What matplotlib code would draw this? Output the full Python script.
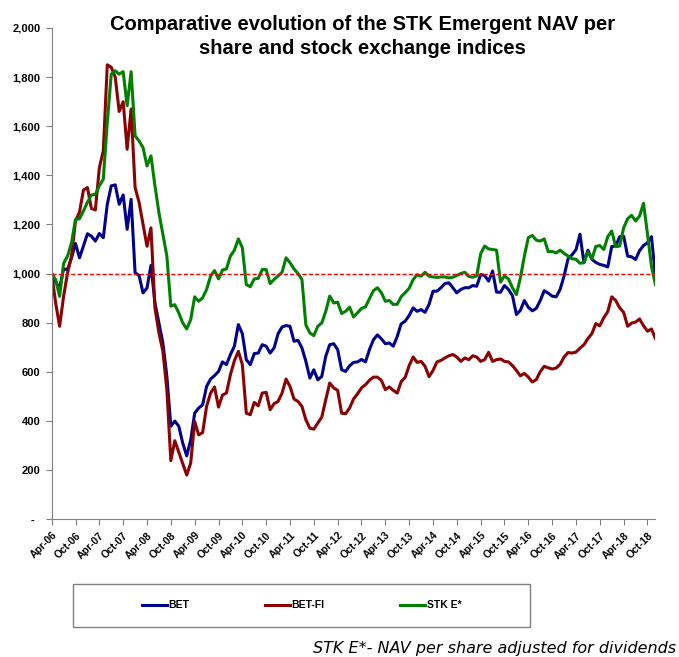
import numpy as np
import pandas as pd
import matplotlib
matplotlib.use("Agg")
import matplotlib.pyplot as plt
from matplotlib.patches import Rectangle

# monthly values, Apr-06 .. Dec-18 (base 1000)
months = pd.date_range("2006-04-01", periods=153, freq="MS")

bet = [1000, 965, 940, 1019, 1016, 1064, 1122, 1064, 1112, 1162, 1152, 1132, 1163, 1146, 1282,
       1357, 1361, 1282, 1320, 1180, 1302, 1003, 992, 921, 941, 1033, 880, 799, 717, 581,
       378, 399, 378, 309, 257, 322, 431, 452, 465,
       540, 570, 584, 601, 640, 629, 670, 704, 792, 755, 649, 629, 674, 676, 710,
       704, 676, 697, 755, 782, 788, 785, 724, 728, 697, 642, 574, 608, 567, 581,
       663, 710, 714, 690, 608, 601, 624, 638, 640,
       650, 640, 690, 730, 750, 734, 714, 717, 704, 744, 795, 806, 829, 860, 846,
       853, 842, 874, 928, 928, 942, 959, 962, 942, 921, 935, 942, 942, 951, 948,
       996, 992, 969, 1010, 924, 924, 951, 935,
       910, 833, 850, 890, 862, 848, 858, 890, 930, 920, 908, 905, 935, 990, 1060,
       1076, 1097, 1160, 1044, 1095, 1058, 1045, 1037, 1033, 1027, 1110, 1112, 1150, 1152, 1071,
       1068, 1057, 1093, 1114, 1125, 1150, 990]

bet_fi = [1000, 880, 785, 907, 1003, 1071, 1214, 1250, 1340, 1350, 1265, 1259, 1430, 1500, 1850,
          1840, 1800, 1660, 1700, 1506, 1670, 1350, 1290, 1200, 1111, 1186, 860, 758, 683, 526,
          238, 319, 272, 224, 179, 228, 397, 343, 352,
          459, 513, 538, 456, 505, 513, 588, 645, 683, 629, 431, 425, 475, 461, 513,
          516, 445, 470, 479, 513, 570, 540, 489, 479, 459, 404, 370, 366, 391, 415,
          486, 554, 534, 524, 431, 429, 452, 489, 510,
          534, 547, 565, 578, 578, 565, 527, 538, 524, 513, 560, 577, 625, 660, 638,
          642, 622, 580, 605, 640, 646, 656, 665, 670, 660, 642, 656, 649, 665, 660,
          642, 649, 679, 642, 649, 652, 642, 640,
          625, 605, 583, 593, 578, 558, 568, 600, 622, 616, 611, 615, 630, 660, 678,
          676, 680, 696, 710, 735, 755, 796, 787, 820, 845, 905, 890, 860, 842, 785,
          798, 802, 815, 787, 765, 774, 735]

stk_e = [1000, 975, 907, 1041, 1071, 1125, 1220, 1223, 1255, 1290, 1320, 1322, 1357, 1384, 1615,
         1812, 1826, 1812, 1822, 1683, 1822, 1561, 1540, 1513, 1438, 1479, 1357, 1248, 1159, 1071,
         867, 873, 839, 799, 774, 812, 905, 887, 901,
         935, 989, 1012, 978, 1014, 1019, 1071, 1095, 1141, 1105, 955, 946, 978, 980, 1016,
         1016, 959, 976, 990, 1005, 1064, 1044, 1019, 1000, 976, 790, 758, 747, 785, 799,
         846, 908, 880, 883, 837, 846, 863, 823, 840,
         858, 864, 897, 930, 942, 922, 887, 890, 874, 875, 906, 922, 940, 975, 995,
         989, 1005, 989, 986, 984, 986, 986, 982, 985, 992, 1000, 1005, 988, 985, 990,
         1080, 1112, 1100, 1098, 1095, 965, 990, 978,
         942, 914, 982, 1071, 1146, 1155, 1136, 1132, 1141, 1089, 1090, 1084, 1095, 1082, 1071,
         1060, 1058, 1042, 1044, 1087, 1060, 1110, 1114, 1098, 1150, 1173, 1109, 1112, 1186, 1223,
         1237, 1214, 1234, 1286, 1160, 1030, 955]

base_level = 1000
y_ticks = [0, 200, 400, 600, 800, 1000, 1200, 1400, 1600, 1800, 2000]

plt.rcParams["font.family"] = ["Liberation Sans", "DejaVu Sans"]

fig = plt.figure(figsize=(6.79, 6.57), dpi=100)
ax = fig.add_axes([0.0761, 0.21, 0.8892, 0.7474])

x = np.arange(len(months))
ax.plot(x, bet, color="#00008B", lw=2.2, label="BET")
ax.plot(x, bet_fi, color="#8B0000", lw=2.2, label="BET-FI")
ax.plot(x, stk_e, color="#008000", lw=2.2, label="STK E*")
ax.axhline(base_level, color="#FF0000", lw=1, linestyle=(0, (3, 1.5)), zorder=3)

ax.set_xlim(0, len(months) - 1)
ax.set_ylim(0, 2000)

ax.set_yticks(y_ticks)
ax.set_yticklabels(["-  "] + [f"{v:,}" for v in y_ticks[1:]], fontsize=8, fontweight="bold")
xt = x[::6]
ax.set_xticks(xt)
ax.set_xticklabels([months[i].strftime("%b-%y") for i in xt], rotation=45, ha="right",
                   rotation_mode="anchor", fontsize=7.5, fontweight="bold")

for s in ["top", "right"]:
    ax.spines[s].set_visible(False)
for s in ["left", "bottom"]:
    ax.spines[s].set_color("#808080")
ax.tick_params(axis="both", direction="out", length=4, color="#808080", pad=4)

# title, two lines
fig.text(0.534, 1 - 30 / 657, "Comparative evolution of the STK Emergent NAV per",
         ha="center", va="baseline", fontsize=14.5, fontweight="bold")
fig.text(0.534, 1 - 54 / 657, "share and stock exchange indices",
         ha="center", va="baseline", fontsize=14.5, fontweight="bold")

# legend box
fig.patches.append(Rectangle((73 / 679, 1 - 627 / 657), (530 - 73) / 679, 43 / 657,
                             transform=fig.transFigure, fill=False, edgecolor="#808080", lw=1))
fig.legend(loc="center", bbox_to_anchor=(301.5 / 679, 1 - 605.5 / 657), ncol=3, frameon=False,
           prop={"weight": "bold", "size": 7.5}, columnspacing=7.2, handlelength=2.4,
           handletextpad=0.2)

fig.text(676 / 679, 1 - 648 / 657, "STK E*- NAV per share adjusted for dividends",
         ha="right", va="center", fontsize=11.5, style="italic", family="DejaVu Sans")

fig.savefig("out.png", dpi=100)
